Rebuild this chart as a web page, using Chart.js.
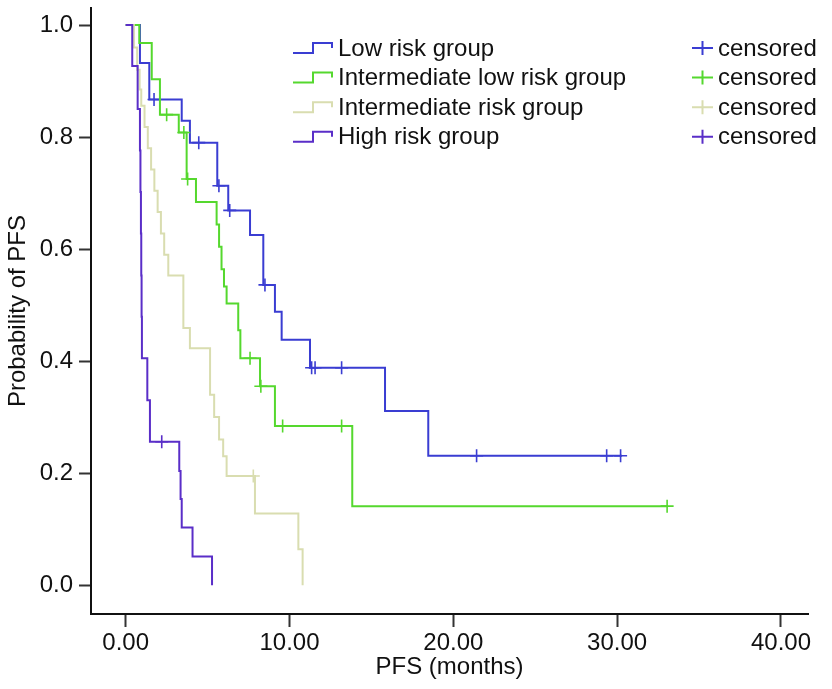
<!DOCTYPE html>
<html><head><meta charset="utf-8">
<script src="https://cdn.jsdelivr.net/npm/chart.js@4.4.1/dist/chart.umd.min.js"></script>
<style>html,body{margin:0;padding:0;background:#fff;} #wrap{width:832px;height:689px;position:relative;}</style>
</head><body><div id="wrap"><canvas id="c"></canvas></div>
<script>
// ---- data (months, survival probability) ----
const groupNames = ['Low risk group', 'Intermediate low risk group', 'Intermediate risk group', 'High risk group'];
const censorLabel = 'censored';

const lowT = [0, 0.87, 1.44, 3.42, 3.92, 5.59, 6.26, 7.59, 8.40, 9.11, 9.52, 11.25, 15.83, 18.47, 30.30];
const lowS = [1, 0.932, 0.867, 0.829, 0.790, 0.713, 0.669, 0.625, 0.536, 0.488, 0.438, 0.388, 0.311, 0.231, 0.231];
const lowCensT = [1.73, 4.46, 5.69, 6.35, 8.50, 11.35, 11.56, 13.18, 21.42, 29.36, 30.21];

const intLowT = [0, 0.83, 1.59, 2.09, 3.24, 3.72, 4.29, 5.55, 5.70, 5.85, 6.00, 6.16, 6.87, 7.00, 8.20, 9.11, 13.83, 33.10];
const intLowS = [1, 0.968, 0.903, 0.840, 0.808, 0.725, 0.684, 0.644, 0.604, 0.564, 0.533, 0.503, 0.455, 0.405, 0.355, 0.284, 0.141, 0.141];
const intLowCensT = [2.50, 3.55, 3.78, 7.59, 8.25, 9.58, 13.18, 33.05];

const intT = [0, 0.50, 0.70, 0.85, 0.95, 1.15, 1.35, 1.55, 1.75, 1.95, 2.15, 2.35, 2.60, 3.52, 3.92, 5.15, 5.40, 5.70, 5.95, 6.16, 7.89, 10.54, 10.80];
const intS = [1, 0.960, 0.920, 0.885, 0.856, 0.818, 0.780, 0.742, 0.704, 0.666, 0.628, 0.590, 0.553, 0.459, 0.423, 0.340, 0.300, 0.260, 0.230, 0.195, 0.128, 0.064, 0.0];
const intCensT = [7.79];

const highT = [0, 0.40, 0.73, 0.87, 0.90, 0.93, 0.95, 0.97, 0.99, 1.32, 1.48, 3.27, 3.35, 3.42, 4.08, 5.27];
const highS = [1, 0.927, 0.850, 0.776, 0.702, 0.628, 0.553, 0.479, 0.405, 0.330, 0.256, 0.204, 0.154, 0.103, 0.051, 0.0];
const highCensT = [2.20];

const xTicks = [0, 10, 20, 30, 40];
const yTicks = [0, 0.2, 0.4, 0.6, 0.8, 1.0];

// ---- styles ----
const colors = ['#3a3dd2', '#55d82e', '#d9ddb0', '#5a2ec8'];
const FONT = '"Liberation Sans", Arial, sans-serif';

const groups = [
  {T: lowT, S: lowS, C: lowCensT},
  {T: intLowT, S: intLowS, C: intLowCensT},
  {T: intT, S: intS, C: intCensT},
  {T: highT, S: highS, C: highCensT}
];

function survAt(T, S, t) {
  let v = S[0];
  for (let i = 0; i < T.length; i++) { if (T[i] <= t) v = S[i]; }
  return v;
}

const datasets = [];
groups.forEach((g, i) => {
  datasets.push({
    label: groupNames[i],
    data: g.T.map((t, k) => ({x: t, y: g.S[k]})),
    showLine: true, stepped: 'before', borderColor: colors[i], borderWidth: 2,
    pointRadius: 0, fill: false, order: 3 - i
  });
});
groups.forEach((g, i) => {
  datasets.push({
    label: groupNames[i] + ' ' + censorLabel,
    data: g.C.map(t => ({x: t, y: survAt(g.T, g.S, t)})),
    showLine: false, pointStyle: 'cross', pointRadius: 6.5, pointBorderWidth: 1.6,
    borderColor: colors[i], backgroundColor: colors[i], order: 3 - i
  });
});

const legendPlugin = {
  id: 'kmLegend',
  afterDraw(chart) {
    const ctx = chart.ctx;
    ctx.save();
    ctx.font = '24px ' + FONT;
    ctx.textBaseline = 'middle';
    ctx.lineWidth = 2;
    groupNames.forEach((name, i) => {
      const cy = 48 + i * 29.6;
      ctx.strokeStyle = colors[i];
      ctx.beginPath();
      ctx.moveTo(293, cy + 5); ctx.lineTo(313, cy + 5); ctx.lineTo(313, cy - 5);
      ctx.lineTo(332, cy - 5); ctx.lineTo(332, cy);
      ctx.stroke();
      ctx.fillStyle = '#111';
      ctx.fillText(name, 338, cy + 1);
      ctx.beginPath();
      ctx.moveTo(692, cy); ctx.lineTo(713, cy);
      ctx.moveTo(702.5, cy - 7); ctx.lineTo(702.5, cy + 7);
      ctx.stroke();
      ctx.fillText(censorLabel, 718, cy + 1);
    });
    ctx.restore();
  }
};

Chart.defaults.font.family = FONT;
Chart.defaults.color = '#111';

new Chart(document.getElementById('c'), {
  type: 'scatter',
  data: {datasets},
  options: {
    responsive: true, maintainAspectRatio: false, animation: false,
    layout: {padding: {left: 0, right: 24, top: 5, bottom: 0}},
    plugins: {legend: {display: false}, tooltip: {enabled: false}},
    scales: {
      x: {
        type: 'linear', min: -2.118, max: 41.65,
        afterBuildTicks: s => { s.ticks = xTicks.map(v => ({value: v})); },
        afterFit: s => { s.height = 75; s.paddingLeft = 0; s.paddingRight = 0; },
        ticks: {callback: v => v.toFixed(2), font: {size: 24}, color: '#111', padding: 2, maxRotation: 0, autoSkip: false},
        grid: {display: true, drawOnChartArea: false, drawTicks: true, tickLength: 13, tickWidth: 2, tickColor: '#333'},
        border: {display: true, color: '#111', width: 2},
        title: {display: true, text: 'PFS (months)', font: {size: 24}, color: '#111', padding: {top: 0, bottom: 7}}
      },
      y: {
        type: 'linear', min: -0.0515, max: 1.0302,
        afterBuildTicks: s => { s.ticks = yTicks.map(v => ({value: v})); },
        afterFit: s => { s.width = 91; s.paddingTop = 0; s.paddingBottom = 0; },
        ticks: {callback: v => v.toFixed(1), font: {size: 24}, color: '#111', padding: 6, autoSkip: false},
        grid: {display: true, drawOnChartArea: false, drawTicks: true, tickLength: 12, tickWidth: 2, tickColor: '#333'},
        border: {display: true, color: '#111', width: 2},
        title: {display: true, text: 'Probability of PFS', font: {size: 24}, color: '#111', padding: {top: 4, bottom: 0}}
      }
    }
  },
  plugins: [legendPlugin]
});
</script>
</body></html>
